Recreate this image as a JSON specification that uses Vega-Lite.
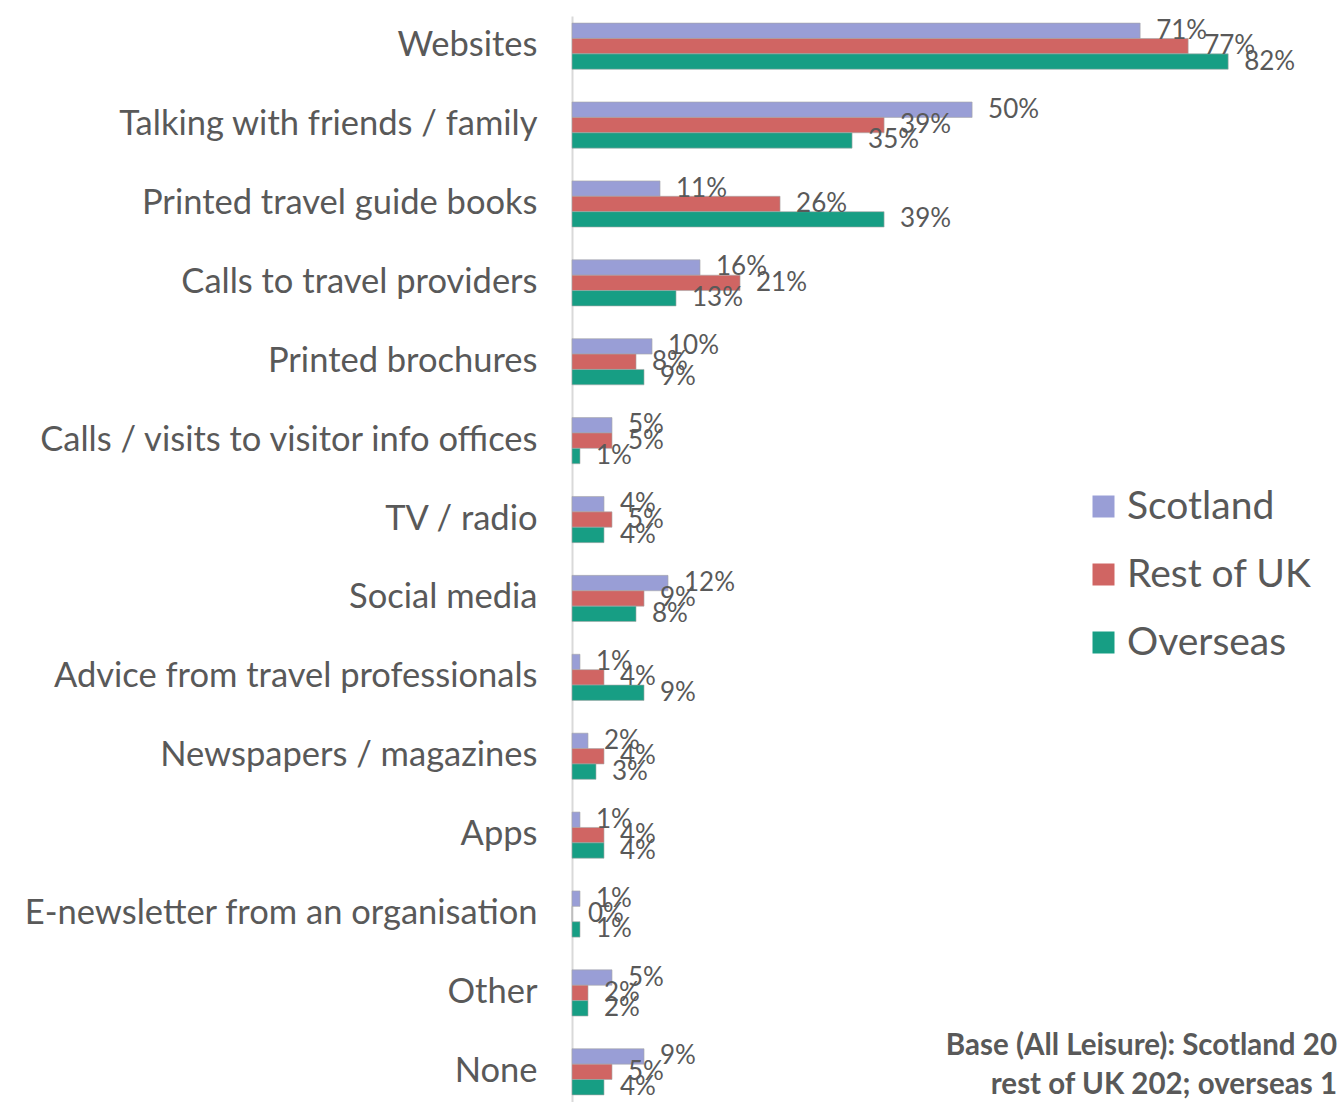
{
  "$schema": "https://vega.github.io/schema/vega-lite/v6.json",
  "autosize": {"type": "none"},
  "padding": {"left": 572, "top": 16, "right": 0, "bottom": 0},
  "width": 765,
  "height": 1086,
  "config": {"view": {"stroke": null}, "font": "Lato"},
  "datasets": {
    "survey": [
      {"category": "Websites", "region": "Scotland", "value": 0.71},
      {"category": "Websites", "region": "Rest of UK", "value": 0.77},
      {"category": "Websites", "region": "Overseas", "value": 0.82},
      {"category": "Talking with friends / family", "region": "Scotland", "value": 0.50},
      {"category": "Talking with friends / family", "region": "Rest of UK", "value": 0.39},
      {"category": "Talking with friends / family", "region": "Overseas", "value": 0.35},
      {"category": "Printed travel guide books", "region": "Scotland", "value": 0.11},
      {"category": "Printed travel guide books", "region": "Rest of UK", "value": 0.26},
      {"category": "Printed travel guide books", "region": "Overseas", "value": 0.39},
      {"category": "Calls to travel providers", "region": "Scotland", "value": 0.16},
      {"category": "Calls to travel providers", "region": "Rest of UK", "value": 0.21},
      {"category": "Calls to travel providers", "region": "Overseas", "value": 0.13},
      {"category": "Printed brochures", "region": "Scotland", "value": 0.10},
      {"category": "Printed brochures", "region": "Rest of UK", "value": 0.08},
      {"category": "Printed brochures", "region": "Overseas", "value": 0.09},
      {"category": "Calls / visits to visitor info offices", "region": "Scotland", "value": 0.05},
      {"category": "Calls / visits to visitor info offices", "region": "Rest of UK", "value": 0.05},
      {"category": "Calls / visits to visitor info offices", "region": "Overseas", "value": 0.01},
      {"category": "TV / radio", "region": "Scotland", "value": 0.04},
      {"category": "TV / radio", "region": "Rest of UK", "value": 0.05},
      {"category": "TV / radio", "region": "Overseas", "value": 0.04},
      {"category": "Social media", "region": "Scotland", "value": 0.12},
      {"category": "Social media", "region": "Rest of UK", "value": 0.09},
      {"category": "Social media", "region": "Overseas", "value": 0.08},
      {"category": "Advice from travel professionals", "region": "Scotland", "value": 0.01},
      {"category": "Advice from travel professionals", "region": "Rest of UK", "value": 0.04},
      {"category": "Advice from travel professionals", "region": "Overseas", "value": 0.09},
      {"category": "Newspapers / magazines", "region": "Scotland", "value": 0.02},
      {"category": "Newspapers / magazines", "region": "Rest of UK", "value": 0.04},
      {"category": "Newspapers / magazines", "region": "Overseas", "value": 0.03},
      {"category": "Apps", "region": "Scotland", "value": 0.01},
      {"category": "Apps", "region": "Rest of UK", "value": 0.04},
      {"category": "Apps", "region": "Overseas", "value": 0.04},
      {"category": "E-newsletter from an organisation", "region": "Scotland", "value": 0.01},
      {"category": "E-newsletter from an organisation", "region": "Rest of UK", "value": 0.0},
      {"category": "E-newsletter from an organisation", "region": "Overseas", "value": 0.01},
      {"category": "Other", "region": "Scotland", "value": 0.05},
      {"category": "Other", "region": "Rest of UK", "value": 0.02},
      {"category": "Other", "region": "Overseas", "value": 0.02},
      {"category": "None", "region": "Scotland", "value": 0.09},
      {"category": "None", "region": "Rest of UK", "value": 0.05},
      {"category": "None", "region": "Overseas", "value": 0.04}
    ],
    "note": [
      {"category": "None", "text": ["Base (All Leisure): Scotland 20", "rest of UK 202; overseas 1"]}
    ]
  },
  "layer": [
    {
      "data": {"name": "survey"},
      "mark": {"type": "bar", "stroke": "#a6a6a6", "strokeWidth": 1, "strokeOpacity": 0.6},
      "encoding": {
        "y": {
          "field": "category", "type": "nominal",
          "sort": ["Websites", "Talking with friends / family", "Printed travel guide books", "Calls to travel providers", "Printed brochures", "Calls / visits to visitor info offices", "TV / radio", "Social media", "Advice from travel professionals", "Newspapers / magazines", "Apps", "E-newsletter from an organisation", "Other", "None"],
          "scale": {"paddingInner": 0.415, "paddingOuter": 0.09},
          "axis": {"title": null, "ticks": false, "domainColor": "#d9d9d9", "domainWidth": 2, "labelFontSize": 34.5, "labelColor": "#595959", "labelPadding": 35, "labelLimit": 600}
        },
        "yOffset": {"field": "region", "type": "nominal", "sort": ["Scotland", "Rest of UK", "Overseas"], "scale": {"paddingInner": 0, "paddingOuter": 0}},
        "x": {"field": "value", "type": "quantitative", "scale": {"domain": [0, 0.956], "nice": false, "zero": true}, "axis": null},
        "color": {
          "field": "region", "type": "nominal",
          "scale": {"domain": ["Scotland", "Rest of UK", "Overseas"], "range": ["#999ed6", "#d06563", "#179e84"]},
          "legend": {"title": null, "orient": "none", "legendX": 512, "legendY": 471, "padding": 0, "symbolType": "square", "symbolSize": 484, "symbolStrokeWidth": 0, "labelFontSize": 39, "labelColor": "#595959", "labelOffset": 4, "labelLimit": 400, "rowPadding": 28}
        }
      }
    },
    {
      "data": {"name": "survey"},
      "mark": {"type": "text", "align": "left", "baseline": "middle", "dx": 16, "fontSize": 26, "color": "#595959"},
      "encoding": {
        "y": {"field": "category", "type": "nominal", "sort": ["Websites", "Talking with friends / family", "Printed travel guide books", "Calls to travel providers", "Printed brochures", "Calls / visits to visitor info offices", "TV / radio", "Social media", "Advice from travel professionals", "Newspapers / magazines", "Apps", "E-newsletter from an organisation", "Other", "None"]},
        "yOffset": {"field": "region", "type": "nominal", "sort": ["Scotland", "Rest of UK", "Overseas"]},
        "x": {"field": "value", "type": "quantitative"},
        "text": {"field": "value", "type": "quantitative", "format": ".0%"}
      }
    },
    {
      "data": {"name": "note"},
      "mark": {"type": "text", "align": "right", "baseline": "middle", "dy": -26, "fontSize": 29.5, "fontWeight": "bold", "color": "#595959", "lineHeight": 39},
      "encoding": {
        "y": {"field": "category", "type": "nominal", "sort": ["Websites", "Talking with friends / family", "Printed travel guide books", "Calls to travel providers", "Printed brochures", "Calls / visits to visitor info offices", "TV / radio", "Social media", "Advice from travel professionals", "Newspapers / magazines", "Apps", "E-newsletter from an organisation", "Other", "None"]},
        "x": {"datum": 0.956},
        "text": {"field": "text"}
      }
    }
  ]
}
